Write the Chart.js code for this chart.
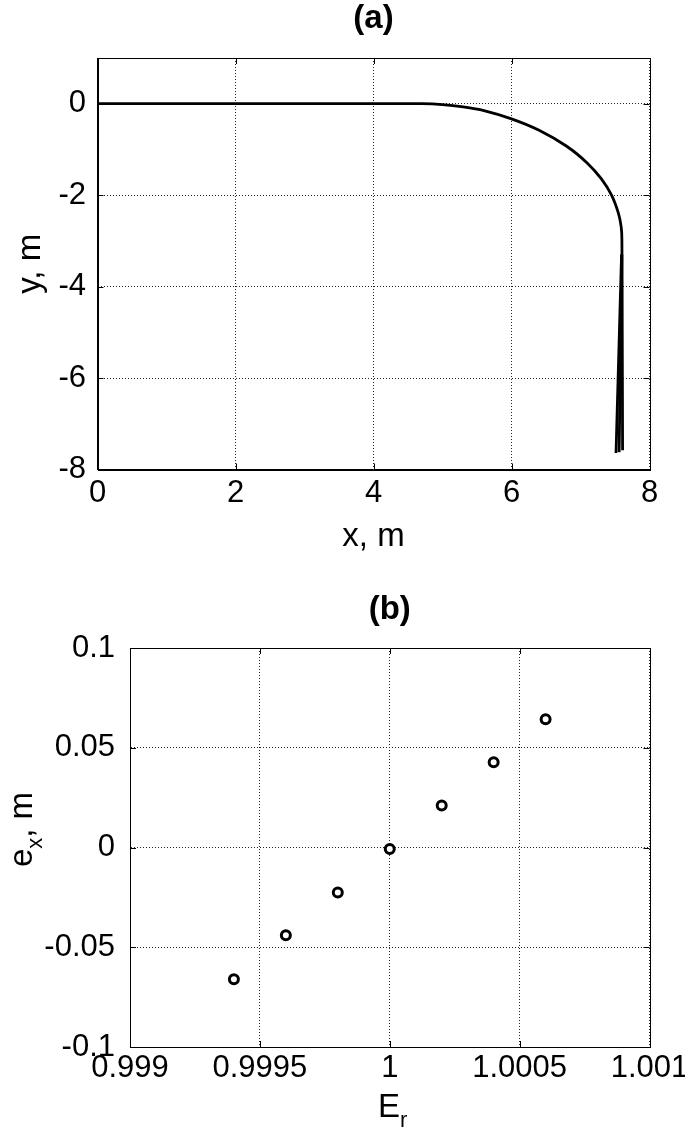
<!DOCTYPE html>
<html>
<head>
<meta charset="utf-8">
<script src="https://cdn.jsdelivr.net/npm/chart.js@4.4.0/dist/chart.umd.min.js"></script>
<style>
  html, body { margin: 0; padding: 0; background: #fff; }
  canvas { display: block; }
</style>
</head>
<body>
<canvas id="chartA" width="685" height="570"></canvas>
<canvas id="chartB" width="685" height="571"></canvas>
<script>
// ---- data (a): trajectory y(x), metres ----
const trajX = [0, 4.0, 4.7, 5.0, 5.3, 5.6, 6.0, 6.4, 6.8, 7.1, 7.3, 7.45, 7.55, 7.59, 7.60, 7.605, 7.61];
const trajY = [0, 0, 0, -0.02, -0.07, -0.15, -0.33, -0.58, -0.93, -1.30, -1.64, -2.0, -2.40, -2.70, -2.98, -5.0, -7.58];
// the end of the trajectory fans out a little (several runs on top of each other)
const tailAX = [7.595, 7.515];
const tailAY = [-3.3, -7.64];
const tailBX = [7.60, 7.56];
const tailBY = [-3.3, -7.62];

const xTicksA = [0, 2, 4, 6, 8];
const xLabelsA = ['0', '2', '4', '6', '8'];
const yTicksA = [-8, -6, -4, -2, 0];
const yLabelsA = ['-8', '-6', '-4', '-2', '0'];

// ---- data (b): e_x against E_r ----
const erVals = [0.9994, 0.9996, 0.9998, 1.0, 1.0002, 1.0004, 1.0006];
const exVals = [-0.066, -0.044, -0.0225, -0.0008, 0.021, 0.0427, 0.0643];

const xTicksB = [0.999, 0.9995, 1, 1.0005, 1.001];
const xLabelsB = ['0.999', '0.9995', '1', '1.0005', '1.001'];
const yTicksB = [-0.1, -0.05, 0, 0.05, 0.1];
const yLabelsB = ['-0.1', '-0.05', '0', '0.05', '0.1'];

const FONT = '"Liberation Sans", Arial, Helvetica, sans-serif';
const FS = 31;   // tick labels
const FL = 33;   // axis labels and titles

function pts(xs, ys) {
  return xs.map((v, i) => ({ x: v, y: ys[i] }));
}

function axis(min, max, vals, labels, pad, fit) {
  return {
    type: 'linear',
    min: min,
    max: max,
    afterBuildTicks: s => { s.ticks = vals.map(v => ({ value: v })); },
    afterFit: s => {
      fit(s);
      // labels may stick out past the plot, don't let chart.js shrink the area for them
      s.paddingLeft = 0; s.paddingRight = 0; s.paddingTop = 0; s.paddingBottom = 0;
    },
    ticks: {
      callback: (v, i) => labels[i],
      font: { family: FONT, size: FS },
      color: '#000',
      padding: pad,
      autoSkip: false,
      maxRotation: 0,
    },
    grid: { color: '#222', lineWidth: 1, drawTicks: false },
    border: { display: true, color: '#000', width: 1, dash: [1, 2] },
  };
}

// box round the plot + small inward tick marks (matlab look)
function drawFrame(chart) {
  const { ctx, chartArea: a, scales: { x, y } } = chart;
  ctx.save();
  ctx.strokeStyle = '#000';
  ctx.lineWidth = 1;
  ctx.beginPath();
  x.ticks.forEach(t => {
    const px = Math.round(x.getPixelForValue(t.value)) + 0.5;
    if (px <= a.left + 2 || px >= a.right - 2) return;
    ctx.moveTo(px, a.bottom); ctx.lineTo(px, a.bottom - 6);
    ctx.moveTo(px, a.top); ctx.lineTo(px, a.top + 6);
  });
  y.ticks.forEach(t => {
    const py = Math.round(y.getPixelForValue(t.value)) + 0.5;
    if (py <= a.top + 2 || py >= a.bottom - 2) return;
    ctx.moveTo(a.left, py); ctx.lineTo(a.left + 6, py);
    ctx.moveTo(a.right, py); ctx.lineTo(a.right - 6, py);
  });
  ctx.stroke();
  ctx.strokeRect(Math.round(a.left) + 0.5, Math.round(a.top) + 0.5,
    Math.round(a.right - a.left), Math.round(a.bottom - a.top));
  ctx.restore();
}

// text with a subscript, left-to-right, starting at x
function subFont(p) {
  return (p.sub ? '22px ' : FL + 'px ') + FONT;
}
function subText(ctx, parts, x, y) {
  parts.forEach(p => {
    ctx.font = subFont(p);
    ctx.fillText(p.t, x, y + (p.sub ? 10 : 0));
    x += ctx.measureText(p.t).width;
  });
}
function subWidth(ctx, parts) {
  let w = 0;
  parts.forEach(p => {
    ctx.font = subFont(p);
    w += ctx.measureText(p.t).width;
  });
  return w;
}

const textA = {
  id: 'textA',
  afterDraw(chart) {
    drawFrame(chart);
    const { ctx, chartArea: a } = chart;
    const cx = (a.left + a.right) / 2;
    ctx.save();
    ctx.fillStyle = '#000';
    ctx.textAlign = 'center';
    ctx.textBaseline = 'middle';
    ctx.font = 'bold ' + FL + 'px ' + FONT;
    ctx.fillText('(a)', cx, a.top - 39);
    ctx.textBaseline = 'alphabetic';
    ctx.font = FL + 'px ' + FONT;
    ctx.fillText('x, m', cx, a.bottom + 76);
    ctx.translate(40, (a.top + a.bottom) / 2);
    ctx.rotate(-Math.PI / 2);
    ctx.fillText('y, m', 0, 0);
    ctx.restore();
  }
};

const textB = {
  id: 'textB',
  afterDraw(chart) {
    drawFrame(chart);
    const { ctx, chartArea: a } = chart;
    const cx = (a.left + a.right) / 2;
    ctx.save();
    ctx.fillStyle = '#000';
    ctx.textAlign = 'center';
    ctx.textBaseline = 'middle';
    ctx.font = 'bold ' + FL + 'px ' + FONT;
    ctx.fillText('(b)', cx, a.top - 38);
    ctx.textAlign = 'left';
    ctx.textBaseline = 'alphabetic';
    const er = [{ t: 'E' }, { t: 'r', sub: true }];
    subText(ctx, er, cx - subWidth(ctx, er) / 2 + 3, a.bottom + 70);
    const ex = [{ t: 'e' }, { t: 'x', sub: true }, { t: ', m' }];
    ctx.translate(32, (a.top + a.bottom) / 2 - 18);
    ctx.rotate(-Math.PI / 2);
    subText(ctx, ex, -subWidth(ctx, ex) / 2, 0);
    ctx.restore();
  }
};

const common = {
  responsive: false,
  animation: false,
  devicePixelRatio: 1,
  plugins: { legend: { display: false }, tooltip: { enabled: false } },
};

new Chart(document.getElementById('chartA'), {
  type: 'scatter',
  data: {
    datasets: [
      { data: pts(trajX, trajY), showLine: true, borderColor: '#000', borderWidth: 2.8, pointRadius: 0, tension: 0.3 },
      { data: pts(tailAX, tailAY), showLine: true, borderColor: '#000', borderWidth: 2.8, pointRadius: 0 },
      { data: pts(tailBX, tailBY), showLine: true, borderColor: '#000', borderWidth: 2.8, pointRadius: 0 },
    ],
  },
  options: {
    ...common,
    layout: { padding: { top: 58, right: 35.5, left: 0, bottom: 0 } },
    scales: {
      x: axis(0, 8, xTicksA, xLabelsA, 5, s => { s.height = 100.5; }),
      y: axis(-8, 1, yTicksA, yLabelsA, 11.5, s => { s.width = 97.5; }),
    },
  },
  plugins: [textA],
});

new Chart(document.getElementById('chartB'), {
  type: 'scatter',
  data: {
    datasets: [
      { data: pts(erVals, exVals), borderColor: '#000', backgroundColor: '#fff', borderWidth: 3, pointRadius: 4.5 },
    ],
  },
  options: {
    ...common,
    layout: { padding: { top: 78, right: 35.5, left: 0, bottom: 0 } },
    scales: {
      x: axis(0.999, 1.001, xTicksB, xLabelsB, 3, s => { s.height = 94; }),
      y: axis(-0.1, 0.1, yTicksB, yLabelsB, 15, s => { s.width = 130; }),
    },
  },
  plugins: [textB],
});
</script>
</body>
</html>
